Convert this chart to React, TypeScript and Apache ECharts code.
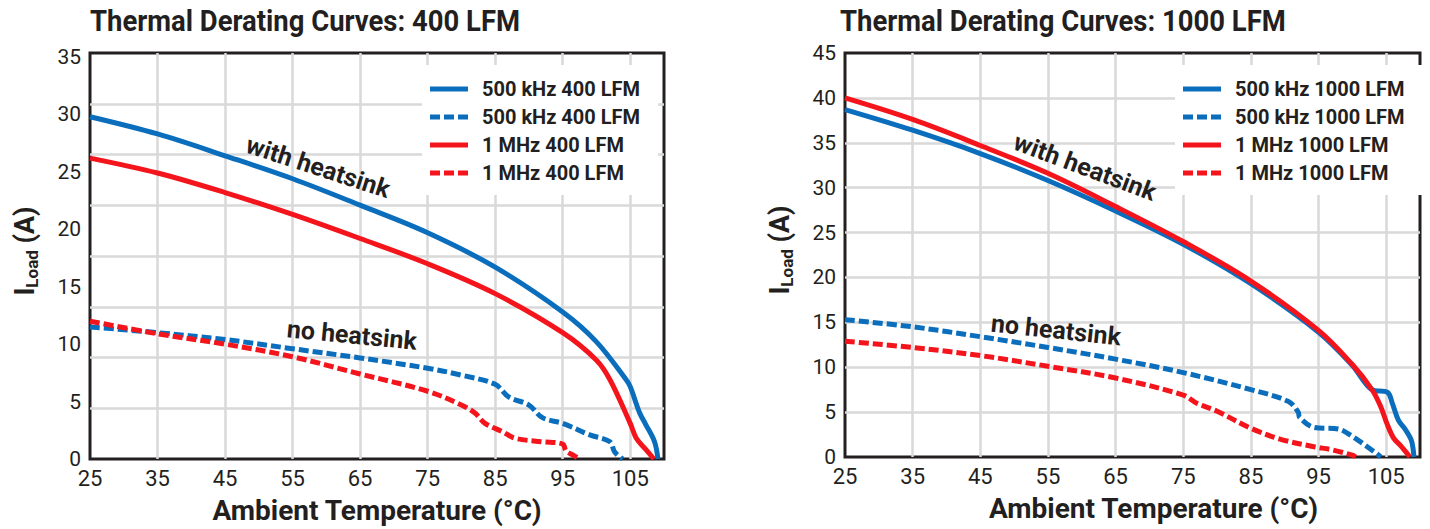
import React, { useEffect, useRef } from "react";
import * as echarts from "echarts";

// ---------- data (Ambient temperature °C, load current A) ----------
const TITLE_400 = "Thermal Derating Curves: 400 LFM";
const TITLE_1000 = "Thermal Derating Curves: 1000 LFM";

const blueHs400: number[][] = [
  [25, 29.8], [35, 28.3], [45, 26.4], [55, 24.4], [65, 22.1], [75, 19.7],
  [85, 16.7], [95, 12.8], [100, 10.2], [104.4, 6.9], [105, 6.3], [106.4, 4.0],
  [107.3, 3.0], [108.6, 1.5], [109.1, 0],
];
const blueNo400: number[][] = [
  [25, 11.5], [35, 11.0], [45, 10.4], [55, 9.6], [65, 8.8], [75, 7.9],
  [80, 7.3], [85, 6.5], [87, 5.4], [90, 4.7], [92, 3.6], [95, 3.1],
  [99, 2.1], [102, 1.5], [102.7, 0.6], [103.9, 0],
];
const redHs400: number[][] = [
  [25, 26.2], [35, 24.9], [45, 23.2], [55, 21.3], [65, 19.2], [75, 17.0],
  [85, 14.4], [95, 11.0], [100, 8.6], [102, 6.9], [105, 3.1], [105.9, 1.8],
  [107.2, 0.9], [108.5, 0],
];
const redNo400: number[][] = [
  [25, 12.0], [35, 10.9], [45, 10.0], [55, 8.9], [65, 7.4], [75, 5.9],
  [80, 4.7], [82, 4.0], [83.5, 3.1], [86, 2.4], [88, 1.8], [92, 1.5],
  [95, 1.3], [95.5, 0.7], [96.5, 0.35], [97.5, 0],
];

const blueHs1000: number[][] = [
  [25, 38.7], [35, 36.4], [45, 33.8], [55, 30.8], [65, 27.4], [75, 23.7],
  [85, 19.3], [95, 13.9], [100, 10.2], [102.9, 7.5], [105.2, 7.2], [105.9, 6.0],
  [106.8, 4.1], [107.8, 3.1], [108.7, 1.9], [109.0, 0.8], [109.1, 0],
];
const blueNo1000: number[][] = [
  [25, 15.3], [35, 14.5], [45, 13.4], [55, 12.2], [65, 10.9], [75, 9.4],
  [85, 7.5], [90.5, 6.2], [92, 5.0], [92.2, 4.4], [94.3, 3.3], [98, 3.1],
  [100, 2.3], [102.2, 1.15], [103.9, 0.2], [104.2, 0],
];
const redHs1000: number[][] = [
  [25, 40.0], [35, 37.6], [45, 34.7], [55, 31.6], [65, 27.9], [75, 24.0],
  [85, 19.6], [95, 14.1], [100, 10.3], [102.9, 7.5], [104.2, 5.6], [105.1, 3.75],
  [106.1, 2.1], [107.1, 1.3], [108.3, 0.2], [108.5, 0],
];
const redNo1000: number[][] = [
  [25, 12.9], [35, 12.2], [45, 11.3], [55, 10.1], [65, 8.8], [75, 6.9],
  [77, 6.0], [80, 5.1], [85, 3.2], [89.3, 2.0], [94.3, 1.15], [97, 0.8],
  [100, 0.2], [100.5, 0],
];

const legendLabels: Record<string, string> = {
  bHs400: "500 kHz 400 LFM",
  bNo400: "500 kHz 400 LFM",
  rHs400: "1 MHz 400 LFM",
  rNo400: "1 MHz 400 LFM",
  bHs1000: "500 kHz 1000 LFM",
  bNo1000: "500 kHz 1000 LFM",
  rHs1000: "1 MHz 1000 LFM",
  rNo1000: "1 MHz 1000 LFM",
};

const X_MIN = 25;
const X_MAX = 110;
const X_STEP = 10;
const Y_MAX_400 = 35.35;
const Y_MAX_1000 = 45;
const Y_STEP = 5;

const X_NAME = "Ambient Temperature (°C)";
const Y_NAME = "{i|I}{s|Load}{i| (A)}";
const ANNOT_HS = "with heatsink";
const ANNOT_NO = "no heatsink";

// ---------- styles ----------
const FONT = "Roboto, 'DejaVu Sans', sans-serif";
const INK = "#231f20";
const BLUE = "#0a6ebd";
const RED = "#f4141c";
const GRIDC = "#d9d9d9";
const SOLID_ICON = "path://M0,0H38V5H0Z";
const DASH_ICON = "path://M0,0H10V5H0Z M14,0H24V5H14Z M28,0H38V5H28Z";

function lineSeries(name: string, data: number[][], color: string, dashed: boolean, xi: number, yi: number) {
  return {
    type: "line",
    name,
    data,
    xAxisIndex: xi,
    yAxisIndex: yi,
    symbol: "none",
    smooth: 0.35,
    color,
    silent: true,
    lineStyle: { width: 5, color, type: dashed ? [10, 4] : "solid", cap: "butt", join: "round" },
  };
}

function xAxisCfg(gridIndex: number, padLeft: number) {
  return {
    gridIndex,
    type: "value",
    min: X_MIN,
    max: X_MAX,
    interval: X_STEP,
    axisLine: { show: false },
    axisTick: { show: false },
    axisLabel: {
      margin: 8,
      fontSize: 22,
      fontFamily: FONT,
      color: INK,
      formatter: (v: number) => (v >= X_MAX ? "" : String(v)),
    },
    splitLine: { show: true, showMinLine: false, showMaxLine: false, lineStyle: { color: GRIDC, width: 2.5 } },
    name: X_NAME,
    nameLocation: "middle",
    nameGap: 37,
    nameTextStyle: { fontSize: 28, fontWeight: "bold", fontFamily: FONT, color: INK, padding: [0, 0, 0, padLeft] },
  };
}

function yAxisCfg(gridIndex: number, max: number, showSplit: boolean) {
  return {
    gridIndex,
    type: "value",
    min: 0,
    max,
    interval: Y_STEP,
    axisLine: { show: false },
    axisTick: { show: false },
    axisLabel: {
      margin: 9,
      fontSize: 21,
      fontFamily: FONT,
      color: INK,
      formatter: (v: number) => (Math.abs(v % Y_STEP) < 1e-6 ? String(v) : ""),
    },
    splitLine: { show: showSplit, showMinLine: false, showMaxLine: false, lineStyle: { color: GRIDC, width: 2.5 } },
    name: Y_NAME,
    nameLocation: "middle",
    nameRotate: 90,
    nameGap: 50,
    nameTextStyle: {
      padding: [0, 0, 0, 10],
      rich: {
        i: { fontSize: 27, fontWeight: "bold", fontFamily: FONT, color: INK, lineHeight: 30, verticalAlign: "middle" },
        s: { fontSize: 17, fontWeight: "bold", fontFamily: FONT, color: INK, lineHeight: 14, verticalAlign: "bottom" },
      },
    },
  };
}

function legendCfg(left: number, names: string[]) {
  return {
    left,
    top: 65,
    orient: "vertical",
    backgroundColor: "#ffffff",
    padding: [10, 18, 8, 8],
    itemWidth: 38,
    itemHeight: 5,
    itemGap: 0,
    selectedMode: false,
    itemStyle: { borderWidth: 0 },
    data: names.map((n, i) => ({ name: n, icon: i % 2 === 0 ? SOLID_ICON : DASH_ICON })),
    formatter: (n: string) => legendLabels[n],
    textStyle: { fontSize: 20, fontWeight: "bold", fontFamily: FONT, color: INK, lineHeight: 28, padding: [0, 0, 0, 9] },
  };
}

function txt(text: string, x: number, y: number, size: number, rotDeg: number, align = "center", sx = 1) {
  return {
    type: "text",
    x,
    y,
    scaleX: sx,
    rotation: (rotDeg * Math.PI) / 180,
    silent: true,
    z: 10,
    style: {
      text,
      fontSize: size,
      fontWeight: "bold",
      fontFamily: FONT,
      fill: INK,
      align,
      verticalAlign: "middle",
    },
  };
}

export default function App() {
  const ref = useRef<HTMLDivElement>(null);
  useEffect(() => {
    document.body.style.margin = "0";
    if (!ref.current) return;
    const chart = echarts.init(ref.current, null, { renderer: "svg" });
    const option = {
      animation: false,
      backgroundColor: "#ffffff",
      grid: [
        { left: 90, top: 53, width: 574, height: 406, show: true, borderColor: INK, borderWidth: 3, containLabel: false },
        { left: 845, top: 53, width: 575, height: 404, show: true, borderColor: INK, borderWidth: 3, containLabel: false },
      ],
      xAxis: [xAxisCfg(0, 0), xAxisCfg(1, 42)],
      yAxis: [
        yAxisCfg(0, Y_MAX_400, false),
        {
          gridIndex: 0,
          type: "value",
          min: 0,
          max: 8,
          interval: 1,
          position: "right",
          axisLine: { show: false },
          axisTick: { show: false },
          axisLabel: { show: false },
          splitLine: { show: true, showMinLine: false, showMaxLine: false, lineStyle: { color: GRIDC, width: 2.5 } },
        },
        yAxisCfg(1, Y_MAX_1000, true),
      ],
      legend: [
        legendCfg(422, ["bHs400", "bNo400", "rHs400", "rNo400"]),
        legendCfg(1175, ["bHs1000", "bNo1000", "rHs1000", "rNo1000"]),
      ],
      series: [
        lineSeries("bHs400", blueHs400, BLUE, false, 0, 0),
        lineSeries("bNo400", blueNo400, BLUE, true, 0, 0),
        lineSeries("rHs400", redHs400, RED, false, 0, 0),
        lineSeries("rNo400", redNo400, RED, true, 0, 0),
        lineSeries("bHs1000", blueHs1000, BLUE, false, 1, 2),
        lineSeries("bNo1000", blueNo1000, BLUE, true, 1, 2),
        lineSeries("rHs1000", redHs1000, RED, false, 1, 2),
        lineSeries("rNo1000", redNo1000, RED, true, 1, 2),
      ],
      graphic: [
        txt(TITLE_400, 90, 21, 30, 0, "left", 0.915),
        txt(TITLE_1000, 840, 21, 30, 0, "left", 0.915),
        txt(ANNOT_HS, 318, 167, 25, -18),
        txt(ANNOT_NO, 352, 335, 25, -5.5),
        txt(ANNOT_HS, 1085, 167, 25, -20.5),
        txt(ANNOT_NO, 1056, 330, 25, -6),
      ],
    };
    chart.setOption(option as any);
    return () => chart.dispose();
  }, []);
  return <div ref={ref} style={{ position: "absolute", left: 0, top: 0, width: 1430, height: 529 }} />;
}
